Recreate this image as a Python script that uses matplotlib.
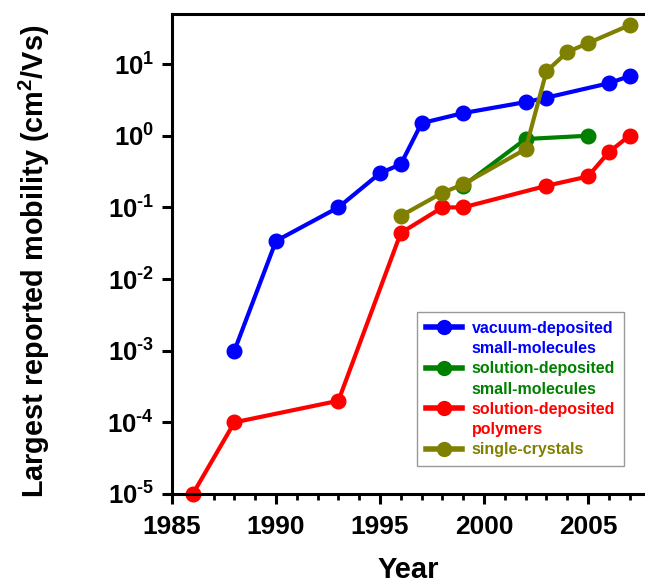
import matplotlib
matplotlib.use("Agg")
import matplotlib.pyplot as plt
from matplotlib.lines import Line2D
from matplotlib.ticker import FixedLocator, MultipleLocator, NullFormatter

plt.rcParams['font.family'] = ['Liberation Sans', 'DejaVu Sans']
plt.rcParams['font.weight'] = 'bold'
plt.rcParams['mathtext.fontset'] = 'custom'
plt.rcParams['mathtext.rm'] = 'Liberation Sans:bold'
plt.rcParams['mathtext.bf'] = 'Liberation Sans:bold'
plt.rcParams['mathtext.default'] = 'bf'

vac_years = [1988, 1990, 1993, 1995, 1996, 1997, 1999, 2002, 2003, 2006, 2007]
vac_vals = [1e-3, 0.034, 0.1, 0.3, 0.4, 1.5, 2.07, 2.95, 3.4, 5.4, 6.8]

solsm_years = [1999, 2002, 2005]
solsm_vals = [0.2, 0.9, 1.0]

poly_years = [1986, 1988, 1993, 1996, 1998, 1999, 2003, 2005, 2006, 2007]
poly_vals = [1e-5, 1e-4, 2e-4, 0.044, 0.1, 0.1, 0.2, 0.27, 0.59, 1.0]

xtal_years = [1996, 1998, 1999, 2002, 2003, 2004, 2005, 2007]
xtal_vals = [0.076, 0.16, 0.21, 0.65, 7.9, 14.7, 19.6, 35]

labels = ["vacuum-deposited\nsmall-molecules", "solution-deposited\nsmall-molecules",
          "solution-deposited\npolymers", "single-crystals"]
colors = ["#0000ff", "#008000", "#ff0000", "#808000"]

x_ticks = [1985, 1990, 1995, 2000, 2005]
y_ticks = [1e-5, 1e-4, 1e-3, 1e-2, 1e-1, 1e0, 1e1]
y_exponents = ["-5", "-4", "-3", "-2", "-1", "0", "1"]

fig = plt.figure(figsize=(6.45, 5.83), dpi=100)
ax = fig.add_axes([172/645, 1 - 494/583, (645 - 172)/645, (494 - 14)/583])

series = [(vac_years, vac_vals), (solsm_years, solsm_vals), (poly_years, poly_vals), (xtal_years, xtal_vals)]
lines = []
for (xs, ys), lab, c in zip(series, labels, colors):
    ln, = ax.plot(xs, ys, '-o', color=c, lw=3, ms=10.5, label=lab, clip_on=False)
    lines.append(ln)

ax.set_yscale('log')
ax.set_xlim(1985, 1985 + (645 - 172) / 20.8)
ax.set_ylim(1e-5, 50)

ax.xaxis.set_major_locator(FixedLocator(x_ticks))
ax.xaxis.set_minor_locator(MultipleLocator(1))
ax.set_xticklabels([str(v) for v in x_ticks], fontsize=19, fontweight='bold')
ax.yaxis.set_major_locator(FixedLocator(y_ticks))
ax.yaxis.set_minor_locator(FixedLocator([]))
ax.yaxis.set_minor_formatter(NullFormatter())
ax.set_yticklabels(["10$^{\\text{%s}}$" % e for e in y_exponents], fontsize=18.5, fontweight='bold')

for s in ['left', 'bottom', 'top']:
    ax.spines[s].set_linewidth(2.2)
ax.spines['right'].set_visible(False)
ax.tick_params(axis='both', which='major', direction='out', length=7, width=2.2, pad=6)
ax.tick_params(axis='x', which='minor', direction='out', length=4, width=2)
ax.tick_params(axis='x', pad=8)

ax.set_xlabel("Year", fontsize=21, fontweight='bold', labelpad=12)
ax.set_ylabel("Largest reported mobility (cm$^2$/Vs)", fontsize=20.8, fontweight='bold')
ax.yaxis.set_label_coords((52 - 172) / 473, (494 - 261) / 480)

# legend: one row per text line, handle aligned with the first line of each entry
leg_handles, leg_texts, leg_colors = [], [], []
for ln, lab, c in zip(lines, labels, colors):
    parts = lab.split("\n")
    for i, p in enumerate(parts):
        if i == 0:
            leg_handles.append(Line2D([], [], color=c, lw=4, marker='o', ms=10))
        else:
            leg_handles.append(Line2D([], [], color='none', lw=0))
        leg_texts.append(p)
        leg_colors.append(c)

leg = ax.legend(leg_handles, leg_texts, loc='upper right',
                bbox_to_anchor=((624 - 172) / 473, (494 - 312) / 480),
                bbox_transform=ax.transAxes,
                fontsize=11.5, frameon=True, fancybox=False, edgecolor='#808080',
                handlelength=2.3, borderpad=0.55, labelspacing=0.33, handletextpad=0.6,
                borderaxespad=0, handleheight=0.7)
leg.get_frame().set_linewidth(1)
for t, c in zip(leg.get_texts(), leg_colors):
    t.set_color(c)
    t.set_fontweight('bold')

fig.savefig("out.png", dpi=100)
